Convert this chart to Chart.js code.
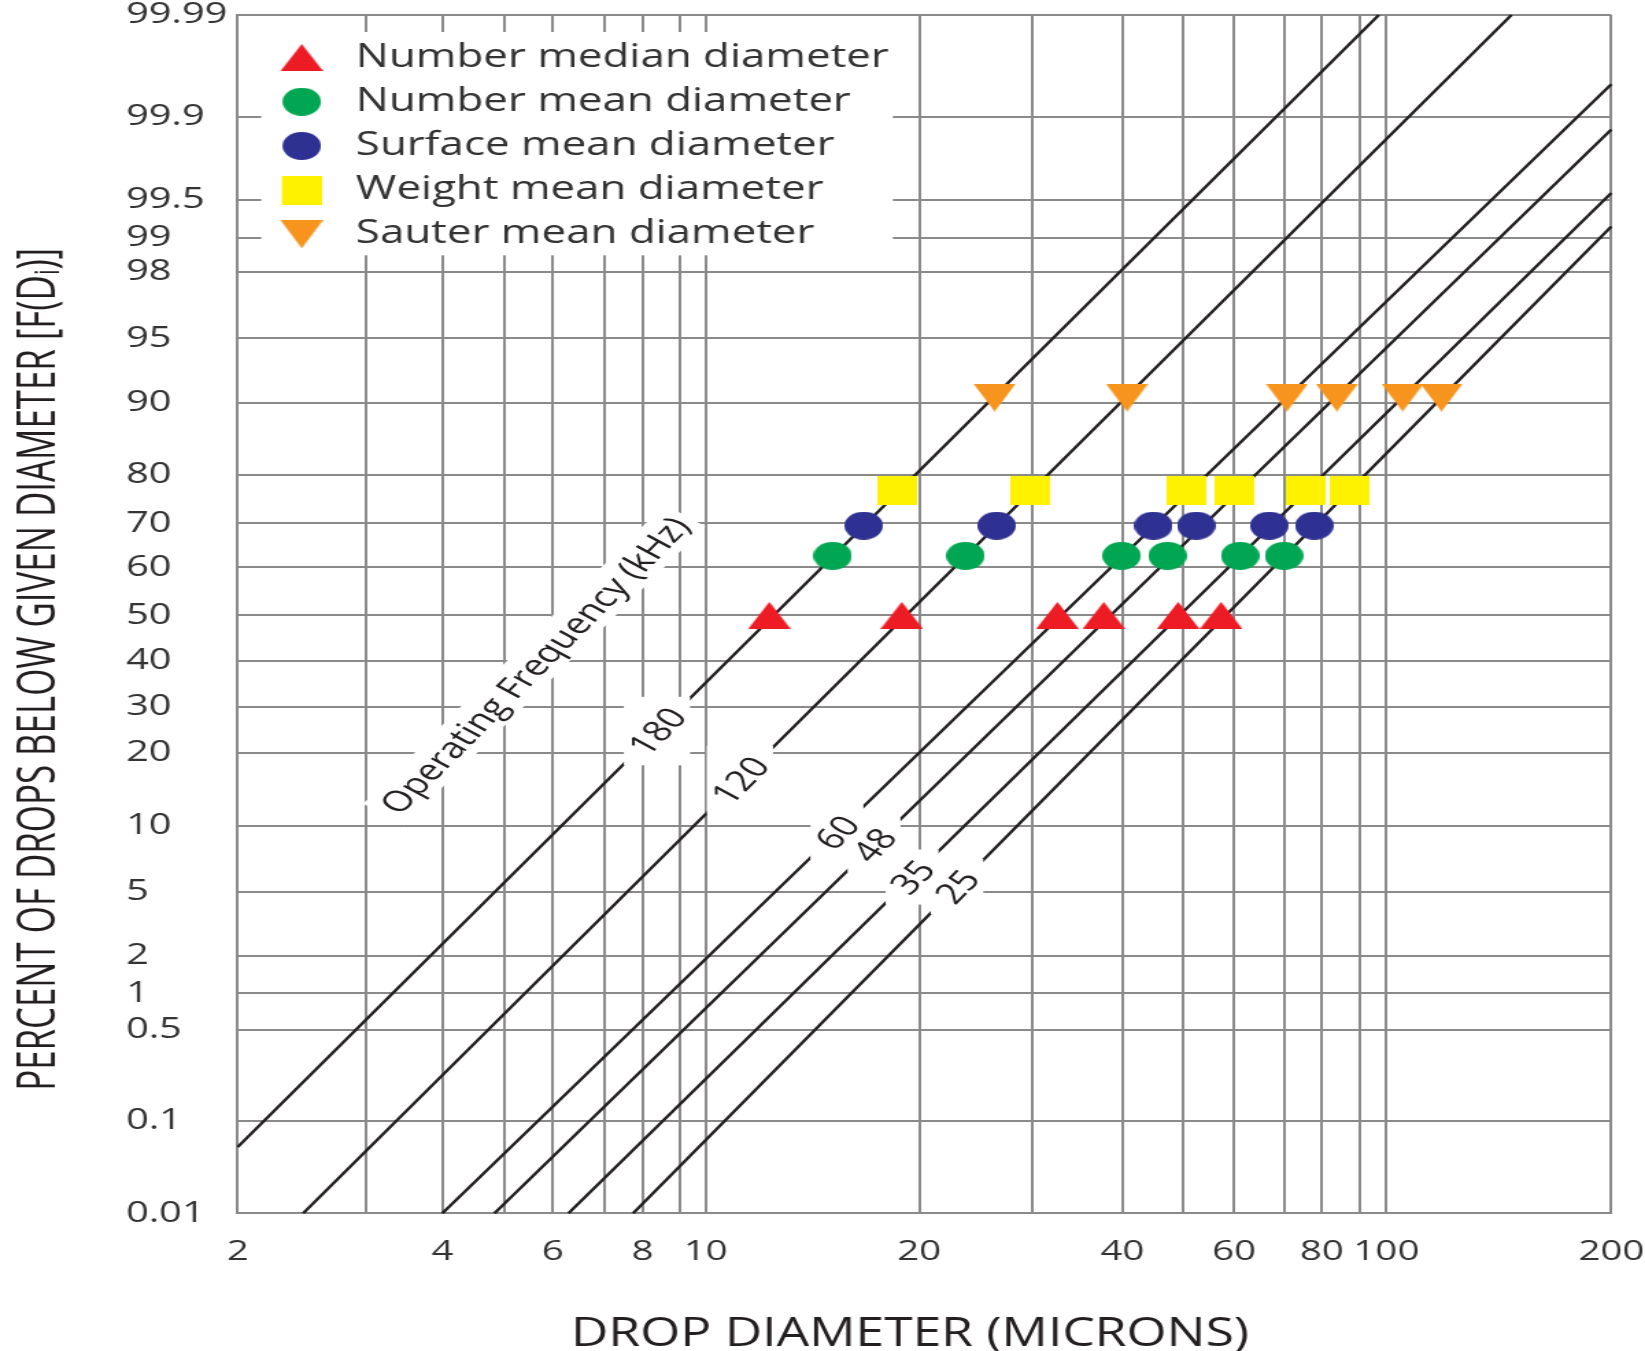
<!DOCTYPE html>
<html>
<head>
<meta charset="utf-8">
<script src="https://cdn.jsdelivr.net/npm/chart.js@4.4.1/dist/chart.umd.min.js"></script>
<style>
html, body { margin: 0; padding: 0; background: #ffffff; overflow: hidden; }
/* the printed figure is stretched horizontally; the whole drawing is stretched the same way */
#stage { position: absolute; left: 0; top: 0; width: 1200px; height: 1351px;
         transform: scaleX(1.3708333); transform-origin: 0 0; }
</style>
</head>
<body>
<div id="stage"><canvas id="chart" width="1200" height="1351"></canvas></div>
<script>
// ------------------------------------------------------------------
// DATA
// ------------------------------------------------------------------
const xGridValues = [2, 3, 4, 5, 6, 7, 8, 9, 10, 20, 30, 40, 50, 60, 70, 80, 90, 100, 200];
const xTickLabels = ['2', '', '4', '', '6', '', '8', '', '10', '20', '', '40', '', '60', '', '80', '', '100', '200'];
const yGridValues = [0.01, 0.1, 0.5, 1, 2, 5, 10, 20, 30, 40, 50, 60, 70, 80, 90, 95, 98, 99, 99.5, 99.9, 99.99];
const yTickLabels = ['0.01', '0.1', '0.5', '1', '2', '5', '10', '20', '30', '40', '50', '60', '70', '80', '90', '95', '98', '99', '99.5', '99.9', '99.99'];

// operating-frequency lines (kHz): end points (diameter, percent)
const frequencyLabels = ['180', '120', '60', '48', '35', '25'];
const lineStartDiameter = [2, 2.46, 4.0, 4.83, 6.29, 7.74];
const lineStartPercent = [0.054, 0.01, 0.01, 0.01, 0.01, 0.01];
const lineEndDiameter = [97, 147, 200, 200, 200, 200];
const lineEndPercent = [99.99, 99.99, 99.95, 99.87, 99.56, 99.18];
const frequencyLabelDiameter = [8.37, 11.18, 15.31, 17.27, 19.54, 22.9];
const captionText = 'Operating Frequency (kHz)';
const captionDiameter = 5.6;
const captionPercent = 39.0;

// characteristic diameters, one per frequency line (180, 120, 60, 48, 35, 25 kHz)
const seriesNames = ['Number median diameter', 'Number mean diameter', 'Surface mean diameter',
                     'Weight mean diameter', 'Sauter mean diameter'];
const numberMedianDiameter = [12.3, 18.9, 32.5, 37.7, 49.2, 57.3];
const numberMeanDiameter   = [15.1, 23.6, 39.9, 47.3, 61.1, 69.9];
const surfaceMeanDiameter  = [16.7, 26.4, 44.9, 52.5, 66.8, 77.9];
const weightMeanDiameter   = [18.6, 29.7, 50.8, 60.1, 75.6, 87.0];
const sauterMeanDiameter   = [26.2, 40.7, 70.6, 83.8, 105.1, 118.5];
const seriesPercent = [50, 62.7, 69.5, 77, 90.5];

const xTitle = 'DROP DIAMETER (MICRONS)';
const yTitleMain = 'PERCENT OF DROPS BELOW GIVEN DIAMETER [F(D';
const yTitleSub = 'i';
const yTitleEnd = ')]';

// calibration of the printed probability paper: share of the axis length at each grid value
const xGridFraction = [0, 0.0934, 0.1490, 0.1939, 0.2293, 0.2669, 0.2948, 0.3220, 0.3406, 0.4962,
                       0.5785, 0.6440, 0.6878, 0.7255, 0.7621, 0.7892, 0.8171, 0.8363, 1];
const yGridFraction = [0, 0.0773, 0.1530, 0.1836, 0.2147, 0.2681, 0.3232, 0.3844, 0.4228, 0.4612,
                       0.4990, 0.5391, 0.5758, 0.6161, 0.6765, 0.7302, 0.7858, 0.8142, 0.8456, 0.9151, 1];

// ------------------------------------------------------------------
// probability / log calibrated scale
// ------------------------------------------------------------------
function probit(p) {
  const a = [-3.969683028665376e+01, 2.209460984245205e+02, -2.759285104469687e+02, 1.383577518672690e+02, -3.066479806614716e+01, 2.506628277459239e+00];
  const b = [-5.447609879822406e+01, 1.615858368580409e+02, -1.556989798598866e+02, 6.680131188771972e+01, -1.328068155288572e+01];
  const c = [-7.784894002430293e-03, -3.223964580411365e-01, -2.400758277161838e+00, -2.549732539343734e+00, 4.374664141464968e+00, 2.938163982698783e+00];
  const d = [7.784695709041462e-03, 3.224671290700398e-01, 2.445134137142996e+00, 3.754408661907416e+00];
  const plow = 0.02425;
  let q, r;
  if (p < plow) {
    q = Math.sqrt(-2 * Math.log(p));
    return (((((c[0]*q+c[1])*q+c[2])*q+c[3])*q+c[4])*q+c[5]) / ((((d[0]*q+d[1])*q+d[2])*q+d[3])*q+1);
  }
  if (p > 1 - plow) {
    q = Math.sqrt(-2 * Math.log(1 - p));
    return -(((((c[0]*q+c[1])*q+c[2])*q+c[3])*q+c[4])*q+c[5]) / ((((d[0]*q+d[1])*q+d[2])*q+d[3])*q+1);
  }
  q = p - 0.5; r = q * q;
  return (((((a[0]*r+a[1])*r+a[2])*r+a[3])*r+a[4])*r+a[5])*q / (((((b[0]*r+b[1])*r+b[2])*r+b[3])*r+b[4])*r+1);
}
function normCdf(z) {
  const t = 1 / (1 + 0.3275911 * Math.abs(z) / Math.SQRT2);
  const y = 1 - (((((1.061405429*t - 1.453152027)*t) + 1.421413741)*t - 0.284496736)*t + 0.254829592)*t*Math.exp(-z*z/2);
  return z >= 0 ? 0.5 * (1 + y) : 0.5 * (1 - y);
}
const AXIS_CAL = {
  x: { values: xGridValues, fractions: xGridFraction, fwd: v => Math.log10(v), inv: t => Math.pow(10, t) },
  y: { values: yGridValues, fractions: yGridFraction, fwd: v => probit(v / 100), inv: t => 100 * normCdf(t) }
};
Object.values(AXIS_CAL).forEach(c => { c.t = c.values.map(c.fwd); });

class CalibratedScale extends Chart.Scale {
  static id = 'calibrated';
  static defaults = {};
  parse(raw) { return raw === null || raw === undefined ? NaN : +raw; }
  determineDataLimits() {
    const c = AXIS_CAL[this.axis];
    this.min = c.values[0];
    this.max = c.values[c.values.length - 1];
  }
  buildTicks() { return AXIS_CAL[this.axis].values.map(v => ({ value: v })); }
  getLabelForValue(v) { return String(v); }
  _toDecimal(v) {
    const c = AXIS_CAL[this.axis], T = c.t, F = c.fractions, t = c.fwd(v);
    let i = 0;
    while (i < T.length - 2 && t > T[i + 1]) i++;
    return F[i] + (t - T[i]) / (T[i + 1] - T[i]) * (F[i + 1] - F[i]);
  }
  getPixelForValue(v) { return this.getPixelForDecimal(this._toDecimal(v)); }
  getPixelForTick(i) {
    const ticks = this.ticks;
    if (i < 0 || i > ticks.length - 1) return null;
    return this.getPixelForValue(ticks[i].value);
  }
  getValueForPixel(p) {
    const c = AXIS_CAL[this.axis], T = c.t, F = c.fractions, f = this.getDecimalForPixel(p);
    let i = 0;
    while (i < F.length - 2 && f > F[i + 1]) i++;
    return c.inv(T[i] + (f - F[i]) / (F[i + 1] - F[i]) * (T[i + 1] - T[i]));
  }
}
Chart.register(CalibratedScale);

// ------------------------------------------------------------------
// styles
// ------------------------------------------------------------------
const FONT = "'Open Sans', 'Noto Sans', 'DejaVu Sans', sans-serif";
const GRID = '#8a8a8a';
const INK = '#231f20';
const seriesColors = ['#ed1c24', '#00a651', '#2e3192', '#fff200', '#f7941d'];
const seriesShapes = ['triUp', 'circle', 'circle', 'square', 'triDown'];

function makeMarker(shape, color, shift) {
  const dims = { triUp: [31, 27], triDown: [31, 28], circle: [28, 28], square: [29, 29] };
  const [w, h] = dims[shape];
  const cv = document.createElement('canvas');
  cv.width = w + 2 * shift; cv.height = h;
  const g = cv.getContext('2d');
  g.translate(2 * shift, 0);
  g.fillStyle = color;
  g.beginPath();
  if (shape === 'triUp') { g.moveTo(w / 2, 0); g.lineTo(w, h); g.lineTo(0, h); }
  else if (shape === 'triDown') { g.moveTo(0, 0); g.lineTo(w, 0); g.lineTo(w / 2, h); }
  else if (shape === 'circle') { g.arc(w / 2, h / 2, w / 2, 0, Math.PI * 2); }
  else { g.rect(0, 0, w, h); }
  g.closePath();
  g.fill();
  return cv;
}
const plotMarkers = seriesShapes.map((s, i) => makeMarker(s, seriesColors[i], 0));
const legendMarkers = seriesShapes.map((s, i) => makeMarker(s, seriesColors[i], 5.5));

// ------------------------------------------------------------------
// datasets
// ------------------------------------------------------------------
const seriesDiameters = [numberMedianDiameter, numberMeanDiameter, surfaceMeanDiameter, weightMeanDiameter, sauterMeanDiameter];
const datasets = [];
seriesNames.forEach((name, s) => {
  datasets.push({
    label: name,
    data: seriesDiameters[s].map(d => ({ x: d, y: seriesPercent[s] })),
    pointStyle: plotMarkers[s],
    pointRadius: 14,
    backgroundColor: seriesColors[s],
    borderColor: seriesColors[s],
    borderWidth: 0,
    showLine: false,
    order: 0
  });
});
frequencyLabels.forEach((f, i) => {
  datasets.push({
    label: f + ' kHz',
    isLine: true,
    data: [{ x: lineStartDiameter[i], y: lineStartPercent[i] }, { x: lineEndDiameter[i], y: lineEndPercent[i] }],
    showLine: true,
    borderColor: INK,
    borderWidth: 2.4,
    pointRadius: 0,
    fill: false,
    tension: 0,
    order: 1
  });
});

// ------------------------------------------------------------------
// plugins
// ------------------------------------------------------------------
const legendBackground = {
  id: 'legendBackground',
  beforeDraw(chart) {
    const lg = chart.legend;
    if (!lg || lg.__bgPatched) return;
    const orig = lg.draw;
    lg.draw = function (area) {
      const hb = this.legendHitBoxes || [];
      if (hb.length) {
        let l = Infinity, t = Infinity, r = -Infinity, b = -Infinity;
        hb.forEach(h => { l = Math.min(l, h.left); t = Math.min(t, h.top); r = Math.max(r, h.left + h.width); b = Math.max(b, h.top + h.height); });
        const ctx = this.ctx;
        ctx.save();
        ctx.fillStyle = '#ffffff';
        ctx.fillRect(l + 5, t - 9.5, r - l - 2, b - t + 14.5);
        ctx.restore();
      }
      return orig.call(this, area);
    };
    lg.__bgPatched = true;
  }
};

function labelGeometry(ctx, text, size) {
  ctx.font = size + 'px ' + FONT;
  return { w: ctx.measureText(text).width, h: size * 0.72 };
}
function drawLabelBox(ctx, g, cx, cy, ang, boxed) {
  const c = Math.abs(Math.cos(ang)), s = Math.abs(Math.sin(ang));
  ctx.save();
  ctx.fillStyle = '#ffffff';
  if (boxed) {
    const hw = c * g.w / 2 + s * g.h / 2 + 1;
    const hh = s * g.w / 2 + c * g.h / 2 + 8;
    ctx.fillRect(cx - hw, cy - hh, 2 * hw, 2 * hh);
  } else {
    ctx.translate(cx, cy);
    ctx.rotate(ang);
    ctx.fillRect(-g.w / 2 - 6, -g.h / 2 - 8, g.w + 12, g.h + 16);
  }
  ctx.restore();
}
function drawLabelText(ctx, text, size, cx, cy, ang) {
  ctx.save();
  ctx.font = size + 'px ' + FONT;
  ctx.translate(cx, cy);
  ctx.rotate(ang);
  ctx.fillStyle = INK;
  ctx.textAlign = 'center';
  ctx.textBaseline = 'alphabetic';
  ctx.fillText(text, 0, size * 0.357);
  ctx.restore();
}

const lineLabels = {
  id: 'lineLabels',
  afterDatasetsDraw(chart) {
    const { ctx, scales: { x, y } } = chart;
    const items = [];
    let firstAngle = 0;
    frequencyLabels.forEach((f, i) => {
      const x0 = x.getPixelForValue(lineStartDiameter[i]), y0 = y.getPixelForValue(lineStartPercent[i]);
      const x1 = x.getPixelForValue(lineEndDiameter[i]), y1 = y.getPixelForValue(lineEndPercent[i]);
      const ang = Math.atan2(y1 - y0, x1 - x0);
      if (i === 0) firstAngle = ang;
      const px = x.getPixelForValue(frequencyLabelDiameter[i]);
      const py = y0 + (px - x0) / (x1 - x0) * (y1 - y0);
      items.push({ text: f, size: 29, cx: px, cy: py, ang, boxed: true });
    });
    items.push({ text: captionText, size: 29, cx: x.getPixelForValue(captionDiameter),
                 cy: y.getPixelForValue(captionPercent), ang: firstAngle, boxed: false });
    items.forEach(it => drawLabelBox(ctx, labelGeometry(ctx, it.text, it.size), it.cx, it.cy, it.ang, it.boxed));
    items.forEach(it => drawLabelText(ctx, it.text, it.size, it.cx, it.cy, it.ang));
  }
};

const axisTitles = {
  id: 'axisTitles',
  afterDraw(chart) {
    const ctx = chart.ctx;
    // x title
    ctx.save();
    ctx.font = '40px ' + FONT;
    ctx.fillStyle = INK;
    const wx = ctx.measureText(xTitle).width;
    ctx.translate(663.8, 1346);
    ctx.scale(494.6 / wx, 1);
    ctx.textAlign = 'center';
    ctx.textBaseline = 'alphabetic';
    ctx.fillText(xTitle, 0, 0);
    ctx.restore();
    // y title (rotated, with subscript)
    ctx.save();
    ctx.fillStyle = INK;
    ctx.textAlign = 'left';
    ctx.textBaseline = 'alphabetic';
    ctx.font = '39px ' + FONT;
    const w1 = ctx.measureText(yTitleMain).width;
    const w3 = ctx.measureText(yTitleEnd).width;
    ctx.font = '25px ' + FONT;
    const w2 = ctx.measureText(yTitleSub).width;
    const total = w1 + w2 + w3;
    ctx.translate(39.8, 669.3);
    ctx.rotate(-Math.PI / 2);
    ctx.scale(843 / total, 1);
    const start = -total / 2;
    ctx.font = '39px ' + FONT;
    ctx.fillText(yTitleMain, start, 0);
    ctx.font = '25px ' + FONT;
    ctx.fillText(yTitleSub, start + w1, 3);
    ctx.font = '39px ' + FONT;
    ctx.fillText(yTitleEnd, start + w1 + w2, 0);
    ctx.restore();
  }
};

// ------------------------------------------------------------------
// chart
// ------------------------------------------------------------------
Chart.defaults.font.family = FONT;
Chart.defaults.color = '#333333';

new Chart(document.getElementById('chart'), {
  type: 'scatter',
  data: { datasets },
  options: {
    responsive: false,
    animation: false,
    devicePixelRatio: 1,
    events: [],
    layout: { padding: { left: 91.9, right: 24.6, top: 15, bottom: 0 } },
    scales: {
      x: {
        type: 'calibrated',
        position: 'bottom',
        afterFit: s => { s.height = 137.7; },
        grid: { color: GRID, lineWidth: 2, drawTicks: false },
        border: { display: true, color: GRID, width: 2 },
        title: { display: false },
        ticks: {
          autoSkip: false, maxRotation: 0, minRotation: 0, padding: 0,
          color: '#333333', font: { family: FONT, size: 28, lineHeight: 2.79 },
          callback: v => { const i = xGridValues.indexOf(v); return i >= 0 ? xTickLabels[i] : ''; }
        }
      },
      y: {
        type: 'calibrated',
        position: 'left',
        afterFit: s => { s.width = 81.5; },
        grid: { color: GRID, lineWidth: 2, drawTicks: false },
        border: { display: true, color: GRID, width: 2 },
        title: { display: false },
        ticks: {
          autoSkip: false, crossAlign: 'far', padding: 0,
          color: '#333333', font: { family: FONT, size: 29, lineHeight: 1 },
          callback: v => { const i = yGridValues.indexOf(v); return i >= 0 ? yTickLabels[i] : ''; }
        }
      }
    },
    plugins: {
      tooltip: { enabled: false },
      title: { display: false },
      legend: {
        position: 'chartArea',
        align: 'start',
        title: { display: true, text: '', font: { size: 10, lineHeight: 1 }, padding: { top: 19.3, bottom: 0 } },
        labels: {
          usePointStyle: true,
          pointStyleWidth: 58,
          boxHeight: 20,
          padding: 12.2,
          color: INK,
          font: { family: FONT, size: 32, lineHeight: 1 },
          generateLabels: chart => chart.data.datasets
            .map((ds, i) => ds.isLine ? null : {
              text: ds.label,
              datasetIndex: i,
              pointStyle: legendMarkers[i],
              fillStyle: ds.backgroundColor,
              strokeStyle: ds.backgroundColor,
              lineWidth: 0,
              hidden: false,
              rotation: 0
            })
            .filter(Boolean)
        }
      }
    }
  },
  plugins: [legendBackground, lineLabels, axisTitles]
});
</script>
</body>
</html>
